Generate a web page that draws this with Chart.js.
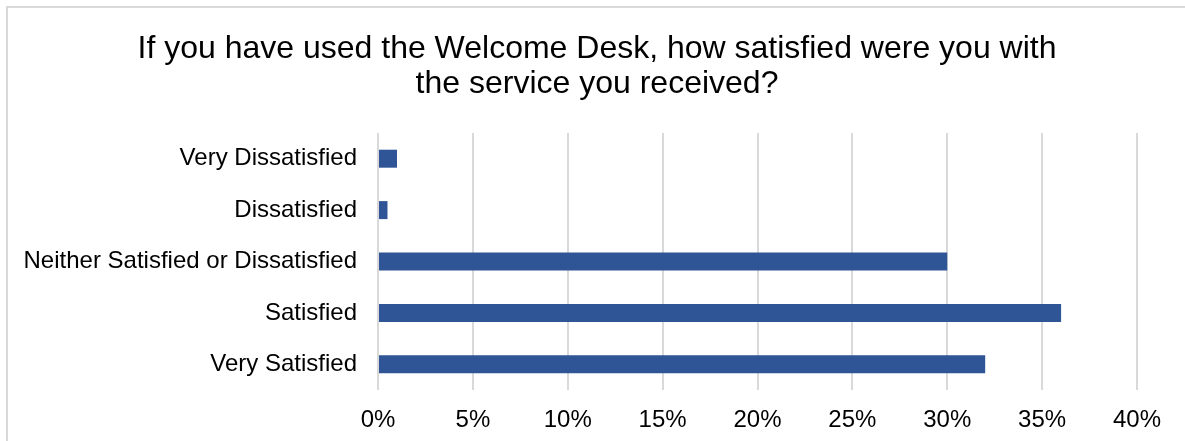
<!DOCTYPE html>
<html>
<head>
<meta charset="utf-8">
<script src="https://cdn.jsdelivr.net/npm/chart.js@4.4.1/dist/chart.umd.min.js"></script>
<style>
  html, body { margin: 0; padding: 0; background: #fff; overflow: hidden; }
  .frame {
    position: absolute; left: 6px; top: 6px; width: 1220px; height: 480px;
    border: 2px solid #d9d9d9; box-sizing: border-box;
  }
  .wrap { position: absolute; left: 0; top: 0; width: 1185px; height: 441px; }
</style>
</head>
<body>
<div class="frame"></div>
<div class="wrap"><canvas id="satChart"></canvas></div>
<script>
// Welcome Desk satisfaction survey (share of responses, %)
const categories = ['Very Dissatisfied', 'Dissatisfied', 'Neither Satisfied or Dissatisfied', 'Satisfied', 'Very Satisfied'];
const shares = [1, 0.5, 30, 36, 32];
const tickValues = [0, 5, 10, 15, 20, 25, 30, 35, 40];
const titleLines = ['If you have used the Welcome Desk, how satisfied were you with', 'the service you received?'];

const barColor = '#2f5597';
const gridColor = '#d9d9d9';
const fontFamily = '"Liberation Sans", Arial, sans-serif';

// Title is centred on the whole frame, not on the plot, so draw it ourselves
const frameTitle = {
  id: 'frameTitle',
  afterDraw(chart) {
    const c = chart.ctx;
    c.save();
    c.fillStyle = '#000';
    c.font = '32px ' + fontFamily;
    c.textAlign = 'center';
    c.textBaseline = 'middle';
    titleLines.forEach((line, i) => c.fillText(line, 597, 49 + i * 35));
    c.restore();
  }
};

const ctx = document.getElementById('satChart').getContext('2d');

new Chart(ctx, {
  type: 'bar',
  data: {
    labels: categories,
    datasets: [{
      data: shares,
      backgroundColor: barColor,
      borderWidth: 0,
      barPercentage: 0.35,
      categoryPercentage: 1
    }]
  },
  options: {
    indexAxis: 'y',
    responsive: true,
    maintainAspectRatio: false,
    animation: false,
    layout: { padding: { left: 0, right: 48, top: 133, bottom: 0 } },
    plugins: {
      legend: { display: false },
      tooltip: { enabled: false },
      title: { display: false }
    },
    scales: {
      x: {
        min: 0,
        max: 40,
        afterBuildTicks: s => { s.ticks = tickValues.map(v => ({ value: v })); },
        afterFit: s => { s.height = 51; },
        grid: { color: gridColor, lineWidth: 2, drawTicks: false },
        border: { display: false },
        ticks: {
          color: '#000',
          padding: 16,
          font: { family: fontFamily, size: 24 },
          callback: v => v + '%'
        }
      },
      y: {
        afterFit: s => { s.width = 378; },
        grid: { display: false, drawTicks: false },
        border: { display: false },
        ticks: {
          color: '#000',
          padding: 21,
          font: { family: fontFamily, size: 24 }
        }
      }
    }
  },
  plugins: [frameTitle]
});
</script>
</body>
</html>
